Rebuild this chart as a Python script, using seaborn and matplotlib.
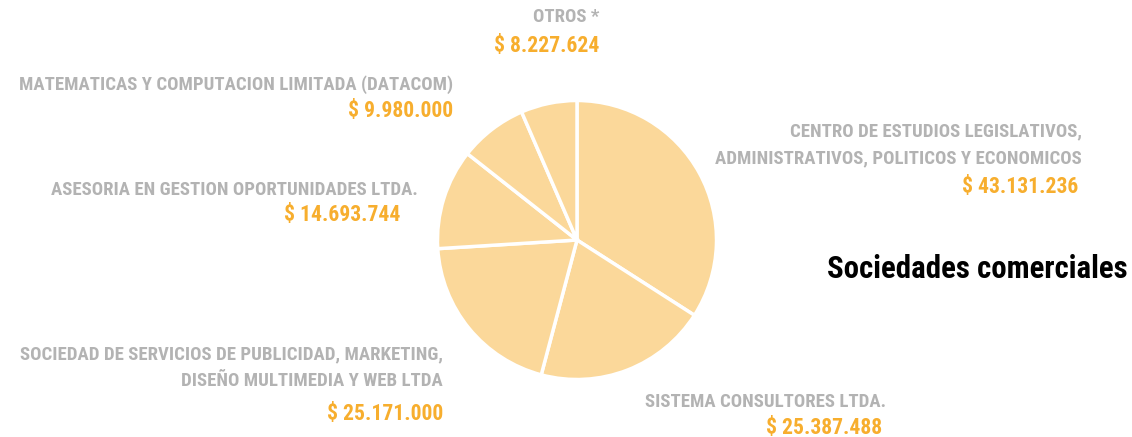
import matplotlib
matplotlib.use("Agg")
import matplotlib.pyplot as plt
from matplotlib import font_manager as fm
import seaborn as sns

# ---- data ----
labels = [
    "CENTRO DE ESTUDIOS LEGISLATIVOS,\nADMINISTRATIVOS, POLITICOS Y ECONOMICOS",
    "SISTEMA CONSULTORES LTDA.",
    "SOCIEDAD DE SERVICIOS DE PUBLICIDAD, MARKETING,\nDISEÑO MULTIMEDIA Y WEB LTDA",
    "ASESORIA EN GESTION OPORTUNIDADES LTDA.",
    "MATEMATICAS Y COMPUTACION LIMITADA (DATACOM)",
    "OTROS *",
]
values = [43131236, 25387488, 25171000, 14693744, 9980000, 8227624]
value_labels = ["$ 43.131.236", "$ 25.387.488", "$ 25.171.000",
                "$ 14.693.744", "$ 9.980.000", "$ 8.227.624"]
title = "Sociedades comerciales"

sns.set_theme(style="white")


def pick_font():
    cands = ["Roboto Condensed", "Open Sans Condensed", "Liberation Sans Narrow",
             "Noto Sans", "Open Sans", "Roboto", "DejaVu Sans"]
    for fam in cands:
        try:
            p = fm.findfont(fm.FontProperties(family=fam, weight="bold", stretch="condensed"),
                            fallback_to_default=False)
        except Exception:
            continue
        low = p.lower()
        if "condensed" in low or "narrow" in low:
            return fam
    return "DejaVu Sans"


FAM = pick_font()
FONT = [FAM, "DejaVu Sans"]
plt.rcParams["font.family"] = FONT

W, H = 1132, 437
fig = plt.figure(figsize=(W / 100, H / 100), dpi=100)
fig.patch.set_facecolor("white")

cx, cy, r = 577, 240, 139.5
ax = fig.add_axes([(cx - r) / W, (H - cy - r) / H, 2 * r / W, 2 * r / H])
slice_color = "#FBD89A"
ax.pie(values, colors=[slice_color] * len(values), startangle=90, counterclock=False,
       wedgeprops=dict(edgecolor="white", linewidth=2.5))
ax.set_xlim(-1, 1)
ax.set_ylim(-1, 1)
ax.set_aspect("equal")
ax.axis("off")

GRAY = "#B3B3B3"
ORANGE = "#F7AE2E"
renderer = fig.canvas.get_renderer()


def px(x, y):
    return x / W, 1 - y / H


def fit_size(s, target_w):
    t = fig.text(0, 0, s, fontsize=20, fontweight="bold", stretch="condensed", family=FONT)
    w = t.get_window_extent(renderer).width
    t.remove()
    return 20 * target_w / w


lab_fs = fit_size("ADMINISTRATIVOS, POLITICOS Y ECONOMICOS", 364)
val_fs = fit_size("$ 43.131.236", 116)
tit_fs = fit_size(title, 300)

layout = [
    (1082, 145, 1078, 187),
    (886, 402, 882, 428),
    (443, 368, 443, 414),
    (418, 190, 400, 215),
    (453, 85, 453, 111),
    (599, 17, 599, 46),
]
for lab, val, (lx, ly, vx, vy) in zip(labels, value_labels, layout):
    fig.text(*px(lx, ly), lab, ha="right", va="center", color=GRAY, fontsize=lab_fs,
             fontweight="bold", stretch="condensed", linespacing=1.6, family=FONT)
    fig.text(*px(vx, vy), val, ha="right", va="center", color=ORANGE, fontsize=val_fs,
             fontweight="bold", stretch="condensed", family=FONT)

fig.text(*px(1128, 269), title, ha="right", va="center", color="black",
         fontsize=tit_fs, fontweight="bold", stretch="condensed", family=FONT)

fig.savefig("out.png", dpi=100, facecolor="white")
